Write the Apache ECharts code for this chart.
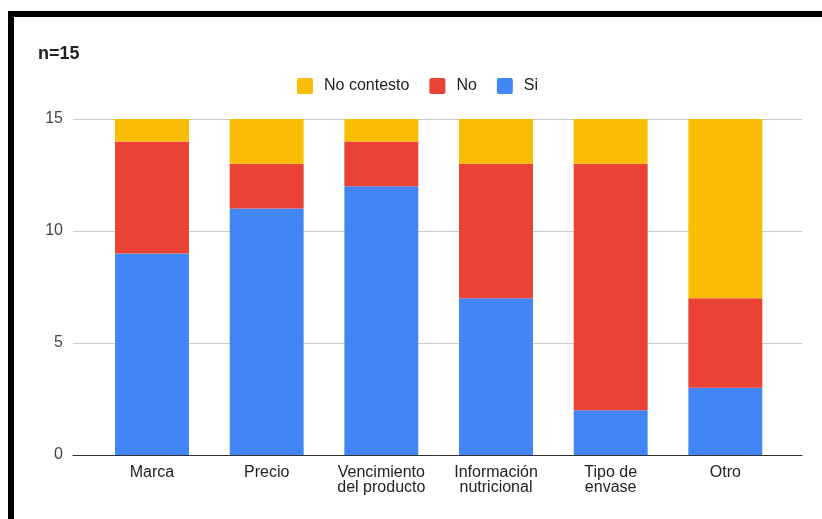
<!DOCTYPE html>
<html>
<head>
<meta charset="utf-8">
<script src="https://cdn.jsdelivr.net/npm/echarts@6/dist/echarts.min.js"></script>
<style>
  html, body { margin: 0; padding: 0; background: #fff; }
  #chart { width: 822px; height: 519px; }
</style>
</head>
<body>
<div id="chart"></div>
<script>
// Survey answers per product attribute (n = 15)
const categories = ['Marca', 'Precio', 'Vencimiento\ndel producto', 'Información\nnutricional', 'Tipo de\nenvase', 'Otro'];
const si = [9, 11, 12, 7, 2, 3];
const no = [5, 2, 2, 6, 11, 4];
const noContesto = [1, 2, 1, 2, 2, 8];
const yTicks = { min: 0, max: 15, interval: 5 };

const FONT = 'Arial, "Liberation Sans", sans-serif';
const SQUARE = 'path://M2,0H14A2,2 0 0 1 16,2V14A2,2 0 0 1 14,16H2A2,2 0 0 1 0,14V2A2,2 0 0 1 2,0Z';
const chart = echarts.init(document.getElementById('chart'), null, { renderer: 'canvas' });

chart.setOption({
  animation: false,
  backgroundColor: '#fff',
  textStyle: { fontFamily: FONT },
  title: {
    text: 'n=15',
    left: 33, top: 40,
    textStyle: { fontFamily: FONT, fontSize: 18, fontWeight: 'bold', color: '#222' }
  },
  legend: {
    data: ['No contesto', 'No', 'Si'],
    left: 292, top: 73,
    icon: SQUARE,
    itemWidth: 16, itemHeight: 16,
    itemGap: 20,
    textStyle: { fontFamily: FONT, fontSize: 16, color: '#222', padding: [0, 0, 0, 6] }
  },
  graphic: [{
    type: 'rect',
    shape: { x: 11, y: 14, width: 900, height: 600 },
    style: { fill: null, stroke: '#000', lineWidth: 6 },
    silent: true, z: 100
  }],
  grid: [
    // wide frame: gridlines and baseline
    { left: 73, right: 20, top: 119, bottom: 64 },
    // bar area
    { left: 94.67, right: 39.33, top: 119, bottom: 64 }
  ],
  xAxis: [
    {
      gridIndex: 0, type: 'category', data: [''],
      axisLine: { show: true, lineStyle: { color: '#333', width: 1 } },
      axisTick: { show: false }, axisLabel: { show: false }
    },
    {
      gridIndex: 1, type: 'category', data: categories,
      axisLine: { show: false }, axisTick: { show: false },
      axisLabel: { fontFamily: FONT, fontSize: 16, color: '#222', margin: 10, lineHeight: 15, interval: 0 }
    }
  ],
  yAxis: [
    {
      gridIndex: 0, type: 'value', min: yTicks.min, max: yTicks.max, interval: yTicks.interval,
      axisLine: { show: false }, axisTick: { show: false },
      axisLabel: { fontFamily: FONT, fontSize: 16, color: '#444', margin: 10 },
      splitLine: { lineStyle: { color: '#cccccc', width: 1 } }
    },
    {
      gridIndex: 1, type: 'value', min: yTicks.min, max: yTicks.max, interval: yTicks.interval,
      show: false, splitLine: { show: false }
    }
  ],
  series: [
    { name: 'Si', type: 'bar', stack: 'total', xAxisIndex: 1, yAxisIndex: 1, data: si,
      barWidth: '64.5%', itemStyle: { color: '#4285F4' } },
    { name: 'No', type: 'bar', stack: 'total', xAxisIndex: 1, yAxisIndex: 1, data: no,
      barWidth: '64.5%', itemStyle: { color: '#EA4335' } },
    { name: 'No contesto', type: 'bar', stack: 'total', xAxisIndex: 1, yAxisIndex: 1, data: noContesto,
      barWidth: '64.5%', itemStyle: { color: '#FBBC04' } }
  ]
});
</script>
</body>
</html>
